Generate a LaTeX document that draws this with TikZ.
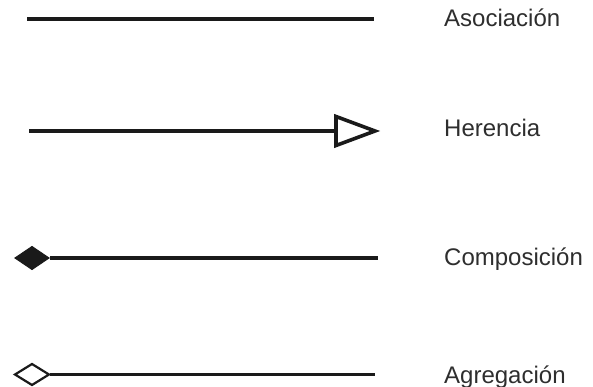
\documentclass[tikz,border=0pt]{standalone}
\usepackage{fontspec}
\setmainfont{Liberation Sans}
\definecolor{ink}{HTML}{1A1A1A}
\definecolor{labelgray}{HTML}{2E2E2E}
\tikzset{
  relline/.style={draw=ink, line width=3.6pt},
  headopen/.style={draw=ink, fill=white, line width=3.6pt, line join=miter},
  headfilled/.style={draw=ink, fill=ink, line width=1pt, line join=miter},
  headhollow/.style={draw=ink, fill=white, line width=2.2pt, line join=miter},
  lbl/.style={anchor=base west, inner sep=0pt, text=labelgray, font=\fontsize{24}{24}\selectfont},
}
\begin{document}
\begin{tikzpicture}[x=1pt, y=-1pt]
  \useasboundingbox (0,0) rectangle (593,387);

  % Association: plain line
  \coordinate (a1) at (27,19);
  \coordinate (a2) at (374,19);
  \draw[relline] (a1) -- (a2);
  \node[lbl] (asoc) at (444,27) {Asociación};

  % Inheritance: line ending in an open triangle
  \coordinate (h1) at (29,131);
  \coordinate (h2) at (336,131);
  \draw[relline] (h1) -- (h2);
  \draw[headopen] (336,116.5) -- (375,131) -- (336,145.5) -- cycle;
  \node[lbl] (her) at (444,136.5) {Herencia};

  % Composition: filled diamond at the start
  \coordinate (c1) at (50,258);
  \coordinate (c2) at (378,258);
  \draw[relline] (c1) -- (c2);
  \draw[headfilled] (15,258) -- (32,246.5) -- (49,258) -- (32,269.5) -- cycle;
  \node[lbl] (comp) at (444,265) {Composición};

  % Aggregation: hollow diamond at the start
  \coordinate (g1) at (50,374.5);
  \coordinate (g2) at (375,374.5);
  \draw[relline] (g1) -- (g2);
  \draw[headhollow] (15,374.5) -- (32,364) -- (49,374.5) -- (32,385) -- cycle;
  \node[lbl] (agr) at (444,383) {Agregación};
\end{tikzpicture}
\end{document}
